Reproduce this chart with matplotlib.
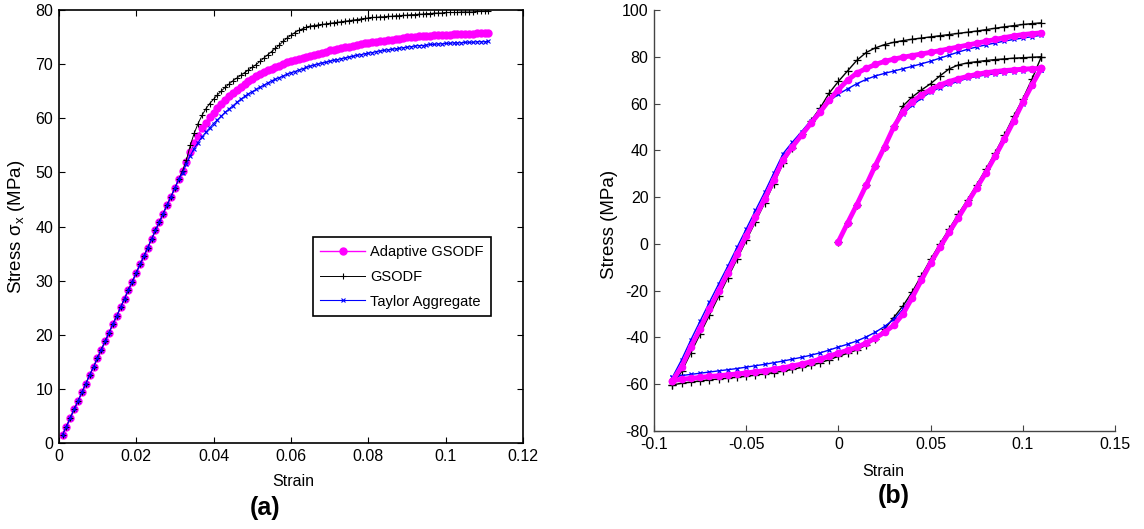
import matplotlib
matplotlib.use('Agg')
import matplotlib.pyplot as plt

plt.rcParams['font.family'] = ['Liberation Sans', 'DejaVu Sans']
plt.rcParams['mathtext.default'] = 'regular'
plt.rcParams['axes.unicode_minus'] = False

# ---------------- (a) monotonic tension ----------------
strain_a = [
    0.001, 0.002, 0.003, 0.004, 0.005, 0.006, 0.007, 0.008, 0.009, 0.010,
    0.011, 0.012, 0.013, 0.014, 0.015, 0.016, 0.017, 0.018, 0.019, 0.020,
    0.021, 0.022, 0.023, 0.024, 0.025, 0.026, 0.027, 0.028, 0.029, 0.030,
    0.031, 0.032, 0.033, 0.034, 0.035, 0.036, 0.037, 0.038, 0.039, 0.040,
    0.041, 0.042, 0.043, 0.044, 0.045, 0.046, 0.047, 0.048, 0.049, 0.050,
    0.051, 0.052, 0.053, 0.054, 0.055, 0.056, 0.057, 0.058, 0.059, 0.060,
    0.061, 0.062, 0.063, 0.064, 0.065, 0.066, 0.067, 0.068, 0.069, 0.070,
    0.071, 0.072, 0.073, 0.074, 0.075, 0.076, 0.077, 0.078, 0.079, 0.080,
    0.081, 0.082, 0.083, 0.084, 0.085, 0.086, 0.087, 0.088, 0.089, 0.090,
    0.091, 0.092, 0.093, 0.094, 0.095, 0.096, 0.097, 0.098, 0.099, 0.100,
    0.101, 0.102, 0.103, 0.104, 0.105, 0.106, 0.107, 0.108, 0.109, 0.110,
    0.111]

adaptive_a = [
    1.6, 3.1, 4.7, 6.3, 7.8, 9.4, 11.0, 12.6, 14.1, 15.7,
    17.3, 18.8, 20.4, 22.0, 23.5, 25.1, 26.7, 28.3, 29.8, 31.4,
    33.0, 34.5, 36.1, 37.7, 39.3, 40.8, 42.4, 44.0, 45.5, 47.1,
    48.7, 50.3, 52.0, 53.8, 55.4, 56.8, 58.1, 59.2, 60.2, 61.0,
    61.8, 62.6, 63.3, 64.0, 64.6, 65.2, 65.8, 66.3, 66.8, 67.3,
    67.7, 68.1, 68.5, 68.8, 69.1, 69.4, 69.7, 70.0, 70.3, 70.5,
    70.7, 70.9, 71.1, 71.3, 71.5, 71.7, 71.9, 72.1, 72.3, 72.5,
    72.6, 72.8, 72.9, 73.1, 73.2, 73.4, 73.5, 73.6, 73.8, 73.9,
    74.0, 74.1, 74.2, 74.3, 74.4, 74.5, 74.6, 74.7, 74.8, 74.9,
    75.0, 75.0, 75.1, 75.1, 75.2, 75.2, 75.3, 75.3, 75.4, 75.4,
    75.4, 75.5, 75.5, 75.5, 75.6, 75.6, 75.6, 75.7, 75.7, 75.7,
    75.8]

gsodf_a = [
    1.6, 3.1, 4.7, 6.3, 7.8, 9.4, 11.0, 12.6, 14.1, 15.7,
    17.3, 18.8, 20.4, 22.0, 23.5, 25.1, 26.7, 28.3, 29.8, 31.4,
    33.0, 34.5, 36.1, 37.7, 39.3, 40.8, 42.4, 44.0, 45.5, 47.1,
    48.7, 50.3, 52.3, 55.0, 57.2, 59.0, 60.5, 61.7, 62.7, 63.5,
    64.3, 65.0, 65.7, 66.3, 66.9, 67.4, 67.9, 68.4, 68.9, 69.4,
    69.9, 70.5, 71.1, 71.7, 72.3, 72.9, 73.5, 74.2, 74.8, 75.3,
    75.8, 76.2, 76.5, 76.8, 77.0, 77.1, 77.2, 77.3, 77.4, 77.5,
    77.6, 77.7, 77.8, 77.9, 78.0, 78.1, 78.2, 78.3, 78.4, 78.5,
    78.6, 78.6, 78.7, 78.7, 78.8, 78.8, 78.9, 78.9, 79.0, 79.0,
    79.1, 79.1, 79.2, 79.2, 79.3, 79.3, 79.4, 79.4, 79.4, 79.5,
    79.5, 79.5, 79.5, 79.6, 79.6, 79.6, 79.6, 79.7, 79.7, 79.7,
    79.8]

taylor_a = [
    1.6, 3.1, 4.7, 6.3, 7.8, 9.4, 11.0, 12.6, 14.1, 15.7,
    17.3, 18.8, 20.4, 22.0, 23.5, 25.1, 26.7, 28.3, 29.8, 31.4,
    33.0, 34.5, 36.1, 37.7, 39.3, 40.8, 42.4, 44.0, 45.5, 47.1,
    48.7, 49.9, 51.6, 53.1, 54.4, 55.5, 56.5, 57.4, 58.2, 59.0,
    59.7, 60.4, 61.1, 61.7, 62.3, 62.9, 63.5, 64.0, 64.5, 64.9,
    65.3, 65.7, 66.1, 66.5, 66.9, 67.2, 67.5, 67.8, 68.1, 68.4,
    68.6, 68.9, 69.1, 69.4, 69.6, 69.8, 70.0, 70.2, 70.3, 70.5,
    70.7, 70.8, 71.0, 71.1, 71.3, 71.4, 71.6, 71.7, 71.9, 72.0,
    72.1, 72.3, 72.4, 72.5, 72.6, 72.7, 72.8, 72.9, 73.0, 73.1,
    73.2, 73.3, 73.4, 73.4, 73.5, 73.6, 73.6, 73.7, 73.7, 73.8,
    73.8, 73.9, 73.9, 73.9, 74.0, 74.0, 74.0, 74.1, 74.1, 74.1,
    74.2]

# ---------------- (b) cyclic loading ----------------
strain_load = [
    0.000, 0.005, 0.010, 0.015, 0.020, 0.025, 0.030, 0.035, 0.040, 0.045,
    0.050, 0.055, 0.060, 0.065, 0.070, 0.075, 0.080, 0.085, 0.090, 0.095,
    0.100, 0.105, 0.110]
strain_reverse = [
    0.110, 0.105, 0.100, 0.095, 0.090, 0.085, 0.080, 0.075, 0.070, 0.065,
    0.060, 0.055, 0.050, 0.045, 0.040, 0.035, 0.030, 0.025, 0.020, 0.015,
    0.010, 0.005, 0.000, -0.005, -0.010, -0.015, -0.020, -0.025, -0.030, -0.035,
    -0.040, -0.045, -0.050, -0.055, -0.060, -0.065, -0.070, -0.075, -0.080, -0.085,
    -0.090]
strain_reload = [
    -0.090, -0.085, -0.080, -0.075, -0.070, -0.065, -0.060, -0.055, -0.050, -0.045,
    -0.040, -0.035, -0.030, -0.025, -0.020, -0.015, -0.010, -0.005, 0.000, 0.005,
    0.010, 0.015, 0.020, 0.025, 0.030, 0.035, 0.040, 0.045, 0.050, 0.055,
    0.060, 0.065, 0.070, 0.075, 0.080, 0.085, 0.090, 0.095, 0.100, 0.105,
    0.110]

adaptive_load = [
    1.0, 9.0, 16.8, 25.0, 33.5, 41.5, 50.0, 56.5, 60.8, 63.6,
    66.0, 67.9, 69.4, 70.6, 71.6, 72.5, 73.2, 73.7, 74.1, 74.4,
    74.7, 74.9, 75.0]
adaptive_reverse = [
    75.0, 68.0, 60.5, 52.5, 44.8, 37.5, 30.5, 24.0, 17.6, 11.2,
    4.9, -1.5, -8.2, -15.5, -23.0, -30.0, -34.8, -37.8, -40.3, -42.4,
    -44.2, -45.5, -46.7, -48.0, -49.3, -50.4, -51.4, -52.2, -53.0, -53.6,
    -54.2, -54.7, -55.2, -55.6, -56.0, -56.4, -56.7, -57.1, -57.5, -57.9,
    -58.5]
adaptive_reload = [
    -58.5, -52.5, -44.0, -36.2, -28.0, -20.2, -12.3, -4.5, 3.5, 11.3,
    19.2, 27.5, 36.0, 41.5, 46.5, 51.5, 56.3, 61.5, 66.0, 70.0,
    73.0, 75.0, 76.7, 78.0, 79.0, 79.8, 80.5, 81.2, 81.9, 82.6,
    83.4, 84.2, 85.0, 85.8, 86.6, 87.4, 88.2, 88.9, 89.5, 89.9,
    90.2]

gsodf_load = [
    1.0, 9.0, 16.8, 25.0, 33.5, 41.5, 50.5, 59.0, 62.8, 65.8,
    68.5, 71.8, 74.8, 76.5, 77.4, 77.9, 78.4, 78.8, 79.1, 79.4,
    79.6, 79.8, 80.0]
gsodf_reverse = [
    80.0, 70.5, 62.0, 54.5, 46.5, 39.0, 32.0, 25.3, 18.9, 12.7,
    6.3, 0.0, -6.6, -13.6, -20.5, -26.5, -31.5, -36.5, -40.5, -43.3,
    -45.3, -46.8, -48.1, -49.5, -50.9, -51.9, -52.8, -53.7, -54.4, -55.0,
    -55.6, -56.1, -56.6, -57.0, -57.4, -57.8, -58.1, -58.6, -59.1, -59.6,
    -60.3]
gsodf_reload = [
    -60.3, -54.5, -46.5, -38.5, -30.5, -22.5, -14.5, -6.5, 1.5, 9.5,
    17.5, 25.8, 34.5, 41.0, 47.0, 52.5, 58.0, 64.5, 69.5, 74.0,
    78.5, 81.8, 83.8, 85.2, 86.2, 86.9, 87.5, 88.0, 88.5, 89.0,
    89.5, 90.0, 90.5, 91.0, 91.6, 92.2, 92.8, 93.3, 93.8, 94.2,
    94.5]

taylor_load = [
    1.0, 9.0, 16.8, 25.0, 33.5, 41.5, 50.0, 55.5, 59.2, 62.3,
    64.9, 66.8, 68.2, 69.5, 70.8, 71.6, 72.2, 72.7, 73.2, 73.6,
    74.0, 74.3, 74.5]
taylor_reverse = [
    74.5, 67.3, 59.8, 52.0, 44.5, 37.3, 30.5, 24.0, 17.7, 11.4,
    5.1, -1.3, -7.8, -14.8, -21.8, -28.0, -32.3, -35.3, -37.8, -39.8,
    -41.5, -42.9, -44.1, -45.4, -46.6, -47.6, -48.5, -49.3, -50.1, -50.8,
    -51.5, -52.1, -52.7, -53.3, -53.8, -54.3, -54.8, -55.3, -55.8, -56.3,
    -57.0]
taylor_reload = [
    -57.0, -49.5, -41.0, -33.0, -25.0, -17.2, -9.5, -1.5, 6.4, 14.3,
    22.1, 30.4, 38.6, 43.5, 48.0, 52.7, 57.2, 61.0, 64.0, 66.3,
    68.5, 70.3, 71.8, 72.9, 73.9, 74.9, 75.9, 77.0, 78.1, 79.4,
    80.7, 82.0, 83.2, 84.2, 85.1, 85.9, 86.7, 87.4, 88.0, 88.6,
    89.2]

strain_b = strain_load + strain_reverse + strain_reload
adaptive_b = adaptive_load + adaptive_reverse + adaptive_reload
gsodf_b = gsodf_load + gsodf_reverse + gsodf_reload
taylor_b = taylor_load + taylor_reverse + taylor_reload

pink = '#ff00ff'
blue = '#0000ff'

fig = plt.figure(figsize=(11.44, 5.29), dpi=100)

# panel (a)
ax1 = fig.add_axes([0.0513, 0.162, 0.4061, 0.8195])
ax1.plot(strain_a, adaptive_a, color=pink, marker='o', markersize=5,
         linewidth=1, label='Adaptive GSODF')
ax1.plot(strain_a, gsodf_a, color='black', marker='+', markersize=5,
         markeredgewidth=0.8, linewidth=0.7, label='GSODF')
ax1.plot(strain_a, taylor_a, color=blue, marker='x', markersize=2.5,
         markeredgewidth=0.8, linewidth=0.8, label='Taylor Aggregate')
ax1.set_xlim(0, 0.12)
ax1.set_ylim(0, 80)
ax1.set_xticks([0, 0.02, 0.04, 0.06, 0.08, 0.1, 0.12])
ax1.set_xticklabels(['0', '0.02', '0.04', '0.06', '0.08', '0.1', '0.12'])
ax1.set_yticks([0, 10, 20, 30, 40, 50, 60, 70, 80])
ax1.tick_params(direction='in', top=True, right=True, length=4, width=0.8,
                labelsize=11.5, pad=4)
for s in ax1.spines.values():
    s.set_linewidth(1.2)
ax1.set_xlabel('Strain', fontsize=11.5)
ax1.xaxis.set_label_coords(0.504, -0.071)
ax1.set_ylabel('Stress σ$_x$ (MPa)', fontsize=13.5)
ax1.yaxis.set_label_coords(-0.068, 0.5)
leg = ax1.legend(loc='lower left', bbox_to_anchor=(0.547, 0.294), fontsize=10.5,
                 handlelength=3.1, fancybox=False, edgecolor='black', framealpha=1,
                 borderpad=0.5, labelspacing=0.75, handletextpad=0.35,
                 borderaxespad=0)
leg.get_frame().set_linewidth(1.2)

# panel (b)
ax2 = fig.add_axes([0.5717, 0.1853, 0.403, 0.7958])
ax2.plot(strain_b, gsodf_b, color='black', marker='+', markersize=6,
         markeredgewidth=0.9, linewidth=1.0, label='GSODF')
ax2.plot(strain_b, taylor_b, color=blue, marker='x', markersize=3,
         markeredgewidth=0.9, linewidth=1.0, label='Taylor Aggregate')
ax2.plot(strain_b, adaptive_b, color=pink, marker='o', markersize=4.5,
         linewidth=3.5, label='Adaptive GSODF')
ax2.set_xlim(-0.1, 0.15)
ax2.set_ylim(-80, 100)
ax2.set_xticks([-0.1, -0.05, 0, 0.05, 0.1, 0.15])
ax2.set_xticklabels(['-0.1', '-0.05', '0', '0.05', '0.1', '0.15'])
ax2.set_yticks([-80, -60, -40, -20, 0, 20, 40, 60, 80, 100])
ax2.spines['top'].set_visible(False)
ax2.spines['right'].set_visible(False)
for s in ['left', 'bottom']:
    ax2.spines[s].set_color('#444444')
    ax2.spines[s].set_linewidth(1.0)
ax2.tick_params(direction='in', length=4, width=0.8, color='#444444',
                labelsize=11.5, pad=4)
ax2.set_xlabel('Strain', fontsize=11.5)
ax2.xaxis.set_label_coords(0.497, -0.078)
ax2.set_ylabel('Stress (MPa)', fontsize=13.5)
ax2.yaxis.set_label_coords(-0.078, 0.49)

fig.text(265 / 1144, 1 - 508 / 529, '(a)', fontsize=18, fontweight='bold',
         ha='center', va='center')
fig.text(894 / 1144, 1 - 496 / 529, '(b)', fontsize=18, fontweight='bold',
         ha='center', va='center')

fig.savefig('out.png', dpi=100)
